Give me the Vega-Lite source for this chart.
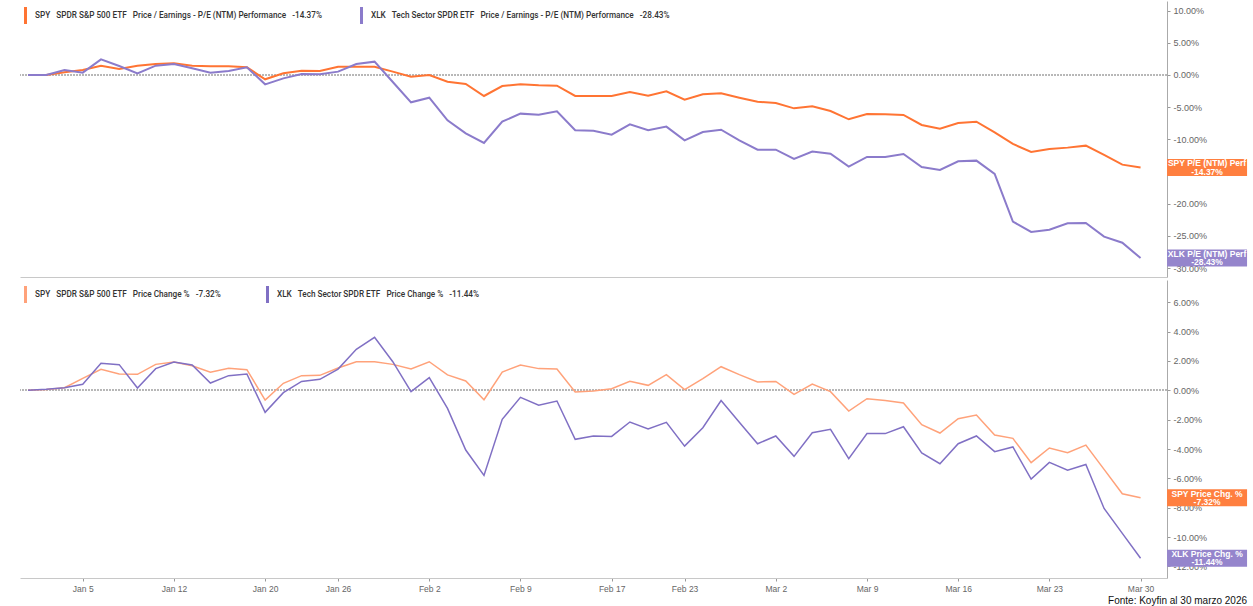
{
  "$schema": "https://vega.github.io/schema/vega-lite/v6.json",
  "background": "white",
  "padding": {"left": 19, "top": 1, "right": 4, "bottom": 2},
  "config": {
    "view": {"stroke": null},
    "font": "Liberation Sans",
    "concat": {"spacing": 3},
    "axis": {"labelFont": "Liberation Sans", "grid": false, "labelOverlap": false}
  },
  "title": {
    "text": "Fonte:  Koyfin al 30 marzo 2026",
    "orient": "bottom",
    "anchor": "end",
    "fontSize": 10,
    "fontWeight": "normal",
    "font": "Liberation Sans Narrow, Liberation Sans, sans-serif",
    "color": "#111",
    "offset": 3
  },
  "datasets": {
    "rows": [
      {"d": "2025-12-30", "spyPE": 0, "xlkPE": 0, "spyPC": 0, "xlkPC": 0},
      {"d": "2025-12-31", "spyPE": 0, "xlkPE": 0, "spyPC": 0.05, "xlkPC": 0.07},
      {"d": "2026-01-02", "spyPE": 0.41, "xlkPE": 0.78, "spyPC": 0.18, "xlkPC": 0.18},
      {"d": "2026-01-05", "spyPE": 0.78, "xlkPE": 0.36, "spyPC": 0.82, "xlkPC": 0.41},
      {"d": "2026-01-06", "spyPE": 1.45, "xlkPE": 2.43, "spyPC": 1.43, "xlkPC": 1.84},
      {"d": "2026-01-07", "spyPE": 0.93, "xlkPE": 1.40, "spyPC": 1.11, "xlkPC": 1.75},
      {"d": "2026-01-08", "spyPE": 1.45, "xlkPE": 0.26, "spyPC": 1.09, "xlkPC": 0.16},
      {"d": "2026-01-09", "spyPE": 1.71, "xlkPE": 1.45, "spyPC": 1.77, "xlkPC": 1.48},
      {"d": "2026-01-12", "spyPE": 1.81, "xlkPE": 1.71, "spyPC": 1.93, "xlkPC": 1.93},
      {"d": "2026-01-13", "spyPE": 1.45, "xlkPE": 1.04, "spyPC": 1.68, "xlkPC": 1.73},
      {"d": "2026-01-14", "spyPE": 1.35, "xlkPE": 0.36, "spyPC": 1.23, "xlkPC": 0.50},
      {"d": "2026-01-15", "spyPE": 1.35, "xlkPE": 0.62, "spyPC": 1.50, "xlkPC": 1.00},
      {"d": "2026-01-16", "spyPE": 1.19, "xlkPE": 1.19, "spyPC": 1.41, "xlkPC": 1.11},
      {"d": "2026-01-20", "spyPE": -0.67, "xlkPE": -1.45, "spyPC": -0.66, "xlkPC": -1.50},
      {"d": "2026-01-21", "spyPE": 0.26, "xlkPE": -0.52, "spyPC": 0.48, "xlkPC": -0.16},
      {"d": "2026-01-22", "spyPE": 0.67, "xlkPE": 0.16, "spyPC": 1.00, "xlkPC": 0.61},
      {"d": "2026-01-23", "spyPE": 0.62, "xlkPE": 0.10, "spyPC": 1.02, "xlkPC": 0.75},
      {"d": "2026-01-26", "spyPE": 1.29, "xlkPE": 0.52, "spyPC": 1.52, "xlkPC": 1.45},
      {"d": "2026-01-27", "spyPE": 1.29, "xlkPE": 1.71, "spyPC": 1.95, "xlkPC": 2.80},
      {"d": "2026-01-28", "spyPE": 1.29, "xlkPE": 2.07, "spyPC": 1.95, "xlkPC": 3.61},
      {"d": "2026-01-29", "spyPE": 0.52, "xlkPE": -1.09, "spyPC": 1.77, "xlkPC": 1.95},
      {"d": "2026-01-30", "spyPE": -0.26, "xlkPE": -4.24, "spyPC": 1.45, "xlkPC": -0.09},
      {"d": "2026-02-02", "spyPE": 0, "xlkPE": -3.52, "spyPC": 1.95, "xlkPC": 0.86},
      {"d": "2026-02-03", "spyPE": -1.04, "xlkPE": -7.04, "spyPC": 1.05, "xlkPC": -1.23},
      {"d": "2026-02-04", "spyPE": -1.40, "xlkPE": -9.06, "spyPC": 0.64, "xlkPC": -4.07},
      {"d": "2026-02-05", "spyPE": -3.26, "xlkPE": -10.56, "spyPC": -0.64, "xlkPC": -5.80},
      {"d": "2026-02-06", "spyPE": -1.71, "xlkPE": -7.25, "spyPC": 1.25, "xlkPC": -1.98},
      {"d": "2026-02-09", "spyPE": -1.45, "xlkPE": -6.00, "spyPC": 1.73, "xlkPC": -0.48},
      {"d": "2026-02-10", "spyPE": -1.60, "xlkPE": -6.16, "spyPC": 1.48, "xlkPC": -1.02},
      {"d": "2026-02-11", "spyPE": -1.66, "xlkPE": -5.64, "spyPC": 1.45, "xlkPC": -0.73},
      {"d": "2026-02-12", "spyPE": -3.26, "xlkPE": -8.59, "spyPC": -0.11, "xlkPC": -3.34},
      {"d": "2026-02-13", "spyPE": -3.26, "xlkPE": -8.67, "spyPC": -0.05, "xlkPC": -3.11},
      {"d": "2026-02-17", "spyPE": -3.26, "xlkPE": -9.27, "spyPC": 0.11, "xlkPC": -3.14},
      {"d": "2026-02-18", "spyPE": -2.64, "xlkPE": -7.66, "spyPC": 0.61, "xlkPC": -2.16},
      {"d": "2026-02-19", "spyPE": -3.21, "xlkPE": -8.59, "spyPC": 0.34, "xlkPC": -2.64},
      {"d": "2026-02-20", "spyPE": -2.54, "xlkPE": -8.02, "spyPC": 1.07, "xlkPC": -2.18},
      {"d": "2026-02-23", "spyPE": -3.83, "xlkPE": -10.14, "spyPC": 0.05, "xlkPC": -3.80},
      {"d": "2026-02-24", "spyPE": -3.00, "xlkPE": -8.85, "spyPC": 0.80, "xlkPC": -2.55},
      {"d": "2026-02-25", "spyPE": -2.85, "xlkPE": -8.49, "spyPC": 1.61, "xlkPC": -0.70},
      {"d": "2026-02-26", "spyPE": -3.52, "xlkPE": -10.14, "spyPC": 1.07, "xlkPC": -2.18},
      {"d": "2026-02-27", "spyPE": -4.14, "xlkPE": -11.59, "spyPC": 0.57, "xlkPC": -3.64},
      {"d": "2026-03-02", "spyPE": -4.35, "xlkPE": -11.59, "spyPC": 0.61, "xlkPC": -3.11},
      {"d": "2026-03-03", "spyPE": -5.18, "xlkPE": -13.04, "spyPC": -0.27, "xlkPC": -4.50},
      {"d": "2026-03-04", "spyPE": -4.87, "xlkPE": -11.90, "spyPC": 0.43, "xlkPC": -2.89},
      {"d": "2026-03-05", "spyPE": -5.59, "xlkPE": -12.22, "spyPC": -0.09, "xlkPC": -2.66},
      {"d": "2026-03-06", "spyPE": -6.88, "xlkPE": -14.23, "spyPC": -1.41, "xlkPC": -4.66},
      {"d": "2026-03-09", "spyPE": -6.06, "xlkPE": -12.73, "spyPC": -0.57, "xlkPC": -2.95},
      {"d": "2026-03-10", "spyPE": -6.11, "xlkPE": -12.73, "spyPC": -0.70, "xlkPC": -2.95},
      {"d": "2026-03-11", "spyPE": -6.21, "xlkPE": -12.27, "spyPC": -0.86, "xlkPC": -2.48},
      {"d": "2026-03-12", "spyPE": -7.76, "xlkPE": -14.29, "spyPC": -2.34, "xlkPC": -4.27},
      {"d": "2026-03-13", "spyPE": -8.33, "xlkPE": -14.75, "spyPC": -2.91, "xlkPC": -5.00},
      {"d": "2026-03-16", "spyPE": -7.45, "xlkPE": -13.41, "spyPC": -1.93, "xlkPC": -3.64},
      {"d": "2026-03-17", "spyPE": -7.25, "xlkPE": -13.30, "spyPC": -1.68, "xlkPC": -3.11},
      {"d": "2026-03-18", "spyPE": -8.90, "xlkPE": -15.37, "spyPC": -3.05, "xlkPC": -4.18},
      {"d": "2026-03-19", "spyPE": -10.71, "xlkPE": -22.77, "spyPC": -3.27, "xlkPC": -3.86},
      {"d": "2026-03-20", "spyPE": -11.96, "xlkPE": -24.38, "spyPC": -4.93, "xlkPC": -6.05},
      {"d": "2026-03-23", "spyPE": -11.49, "xlkPE": -24.02, "spyPC": -3.93, "xlkPC": -4.91},
      {"d": "2026-03-24", "spyPE": -11.28, "xlkPE": -23.03, "spyPC": -4.25, "xlkPC": -5.45},
      {"d": "2026-03-25", "spyPE": -10.97, "xlkPE": -22.98, "spyPC": -3.73, "xlkPC": -5.05},
      {"d": "2026-03-26", "spyPE": -12.42, "xlkPE": -25.10, "spyPC": -5.39, "xlkPC": -8.05},
      {"d": "2026-03-27", "spyPE": -13.92, "xlkPE": -26.04, "spyPC": -7.05, "xlkPC": -9.75},
      {"d": "2026-03-30", "spyPE": -14.37, "xlkPE": -28.43, "spyPC": -7.32, "xlkPC": -11.44}
    ]
  },
  "resolve": {"scale": {"color": "independent"}, "legend": {"color": "independent"}},
  "vconcat": [
    {
      "width": 1147,
      "height": 276,
      "data": {"name": "rows"},
      "transform": [{"fold": ["spyPE", "xlkPE"], "as": ["k", "v"]}],
      "resolve": {"axis": {"x": "independent", "y": "independent"}},
      "layer": [
        {
          "mark": {"type": "rule", "strokeDash": [1.5, 1.5], "color": "#b8b8b8", "strokeWidth": 1},
          "encoding": {"y": {"datum": 0, "type": "quantitative", "axis": null}}
        },
        {
          "mark": {"type": "line", "strokeWidth": 2, "clip": true},
          "encoding": {
            "x": {"field": "d", "type": "ordinal", "scale": {"type": "point", "padding": 0.945, "align": 0.233},
              "axis": {"title": null, "labels": false, "ticks": false, "domainColor": "#c8c8c8"}},
            "y": {"field": "v", "type": "quantitative",
              "scale": {"domain": [-31.37, 11.49], "nice": false, "zero": false},
              "axis": {"orient": "right", "title": null, "values": [-30, -25, -20, -15, -10, -5, 0, 5, 10],
                "labelExpr": "replace(format(datum.value, '.2f'), '\u2212', '-') + '%'", "labelOverlap": false,
                "domainColor": "#aaaaaa", "tickColor": "#999999", "tickSize": 3, "labelColor": "#666666",
                "labelFontSize": 9, "labelPadding": 3}},
            "color": {"field": "k", "type": "nominal",
              "scale": {"domain": ["spyPE", "xlkPE"], "range": ["#FF7433", "#8B7BCB"]},
              "legend": {"title": null, "orient": "none", "legendX": 0, "legendY": 9, "direction": "horizontal", "padding": 0,
                "symbolType": "M0,-2.4L0,2.4", "symbolSize": 50, "symbolStrokeWidth": 3,
                "labelFontSize": 8.2, "labelFont": "Roboto", "labelFontWeight": 500, "labelColor": "#333333",
                "labelLimit": 600, "columnPadding": 33, "labelOffset": 4,
                "labelExpr": "datum.value === 'spyPE' ? 'SPY\u00a0\u00a0 SPDR S&P 500 ETF\u00a0\u00a0 Price / Earnings - P/E (NTM) Performance\u00a0\u00a0 -14.37%' : 'XLK\u00a0\u00a0 Tech Sector SPDR ETF\u00a0\u00a0 Price / Earnings - P/E (NTM) Performance\u00a0\u00a0 -28.43%'"}}
          }
        },
        {
          "transform": [{"filter": "datum.d === '2026-03-30'"}],
          "mark": {"type": "point", "shape": "M0,-0.2125H2V0.2125H0Z", "size": 6400, "filled": true, "opacity": 1, "strokeWidth": 0, "xOffset": 26.5},
          "encoding": {
            "x": {"field": "d", "type": "ordinal", "axis": null},
            "y": {"field": "v", "type": "quantitative", "axis": null},
            "fill": {"condition": {"test": "datum.k === 'spyPE'", "value": "#FF7F3F"}, "value": "#9585CC"}
          }
        },
        {
          "transform": [{"filter": "datum.d === '2026-03-30'"}],
          "mark": {"type": "text", "color": "white", "fontWeight": "bold", "fontSize": 8.5, "xOffset": 66.5, "dy": -4.2, "align": "center", "baseline": "middle", "lineHeight": 8.4},
          "encoding": {
            "x": {"field": "d", "type": "ordinal", "axis": null},
            "y": {"field": "v", "type": "quantitative", "axis": null},
            "text": {"condition": {"test": "datum.k === 'spyPE'", "value": ["SPY P/E (NTM) Perf", "-14.37%"]}, "value": ["XLK P/E (NTM) Perf", "-28.43%"]}
          }
        }
      ]
    },
    {
      "width": 1147,
      "height": 298,
      "data": {"name": "rows"},
      "transform": [{"fold": ["spyPC", "xlkPC"], "as": ["k", "v"]}],
      "resolve": {"axis": {"x": "independent", "y": "independent"}},
      "layer": [
        {
          "mark": {"type": "rule", "strokeDash": [1.5, 1.5], "color": "#b8b8b8", "strokeWidth": 1},
          "encoding": {"y": {"datum": 0, "type": "quantitative", "axis": null}}
        },
        {
          "mark": {"type": "line", "strokeWidth": 1.5, "clip": true},
          "encoding": {
            "x": {"field": "d", "type": "ordinal", "scale": {"type": "point", "padding": 0.945, "align": 0.233},
              "axis": {"title": null, "values": ["2026-01-05", "2026-01-12", "2026-01-20", "2026-01-26", "2026-02-02", "2026-02-09", "2026-02-17", "2026-02-23", "2026-03-02", "2026-03-09", "2026-03-16", "2026-03-23", "2026-03-30"],
                "labelExpr": "utcFormat(toDate(datum.value), '%b %-d')", "labelAngle": 0,
                "tickSize": 3, "domainColor": "#c8c8c8", "tickColor": "#999999", "labelColor": "#666666",
                "labelFontSize": 8.5, "labelPadding": 3}},
            "y": {"field": "v", "type": "quantitative",
              "scale": {"domain": [-12.79, 7.52], "nice": false, "zero": false},
              "axis": {"orient": "right", "title": null, "values": [-12, -10, -8, -6, -4, -2, 0, 2, 4, 6],
                "labelExpr": "replace(format(datum.value, '.2f'), '\u2212', '-') + '%'", "labelOverlap": false,
                "domainColor": "#aaaaaa", "tickColor": "#999999", "tickSize": 3, "labelColor": "#666666",
                "labelFontSize": 9, "labelPadding": 3}},
            "color": {"field": "k", "type": "nominal",
              "scale": {"domain": ["spyPC", "xlkPC"], "range": ["#FFA27A", "#8070C4"]},
              "legend": {"title": null, "orient": "none", "legendX": 0, "legendY": 9, "direction": "horizontal", "padding": 0,
                "symbolType": "M0,-2.4L0,2.4", "symbolSize": 50, "symbolStrokeWidth": 3,
                "labelFontSize": 8.2, "labelFont": "Roboto", "labelFontWeight": 500, "labelColor": "#333333",
                "labelLimit": 600, "columnPadding": 40, "labelOffset": 4,
                "labelExpr": "datum.value === 'spyPC' ? 'SPY\u00a0\u00a0 SPDR S&P 500 ETF\u00a0\u00a0 Price Change %\u00a0\u00a0 -7.32%' : 'XLK\u00a0\u00a0 Tech Sector SPDR ETF\u00a0\u00a0 Price Change %\u00a0\u00a0 -11.44%'"}}
          }
        },
        {
          "transform": [{"filter": "datum.d === '2026-03-30'"}],
          "mark": {"type": "point", "shape": "M0,-0.2125H2V0.2125H0Z", "size": 6400, "filled": true, "opacity": 1, "strokeWidth": 0, "xOffset": 26.5},
          "encoding": {
            "x": {"field": "d", "type": "ordinal", "axis": null},
            "y": {"field": "v", "type": "quantitative", "axis": null},
            "fill": {"condition": {"test": "datum.k === 'spyPC'", "value": "#FF7F3F"}, "value": "#9585CC"}
          }
        },
        {
          "transform": [{"filter": "datum.d === '2026-03-30'"}],
          "mark": {"type": "text", "color": "white", "fontWeight": "bold", "fontSize": 8.5, "xOffset": 66.5, "dy": -4.2, "align": "center", "baseline": "middle", "lineHeight": 8.4},
          "encoding": {
            "x": {"field": "d", "type": "ordinal", "axis": null},
            "y": {"field": "v", "type": "quantitative", "axis": null},
            "text": {"condition": {"test": "datum.k === 'spyPC'", "value": ["SPY Price Chg. %", "-7.32%"]}, "value": ["XLK Price Chg. %", "-11.44%"]}
          }
        }
      ]
    }
  ]
}
